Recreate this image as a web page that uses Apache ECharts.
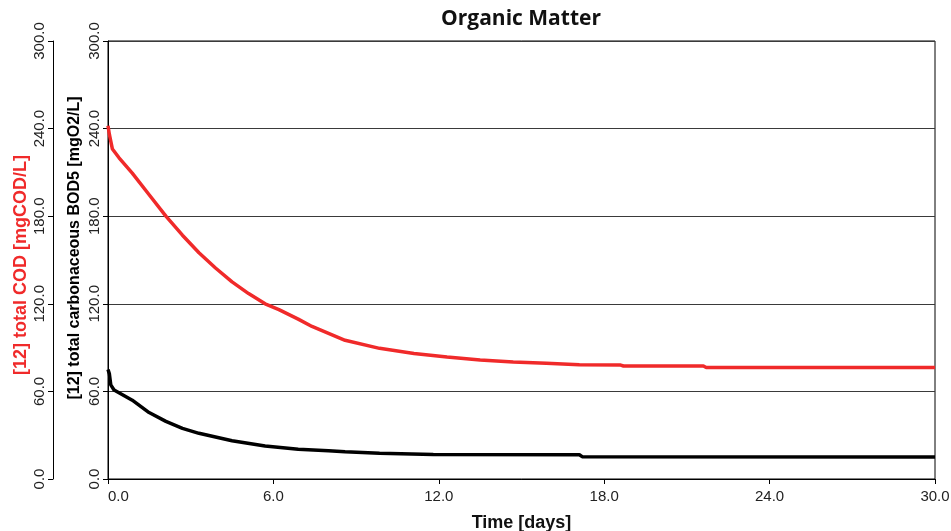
<!DOCTYPE html>
<html>
<head>
<meta charset="utf-8">
<script src="https://cdn.jsdelivr.net/npm/echarts@6/dist/echarts.min.js"></script>
<style>
html,body{margin:0;padding:0;background:#fff;}
#chart{width:951px;height:531px;}
</style>
</head>
<body>
<div id="chart"></div>
<script>
// Title and axis texts
var chartTitle = 'Organic Matter';
var xAxisName = 'Time [days]';
var codAxisName = '[12] total COD [mgCOD/L]';
var bodAxisName = '[12] total carbonaceous BOD5 [mgO2/L]';

// X axis ticks (days)
var xTicks = [0, 6, 12, 18, 24, 30];
// Y axis ticks (both axes)
var yTicks = [0, 60, 120, 180, 240, 300];

// Series: total COD (red)
var codTime = [0, 0.05, 0.16, 0.4, 0.88, 1.5, 2.1, 2.7, 3.3, 3.9, 4.5, 5.1, 5.7, 6.2, 6.9, 7.4, 8.6, 9.85, 11.1, 12.3, 13.5, 14.7, 15.9, 17.1, 18.6, 18.7, 21.6, 21.7, 30];
var codValue = [242, 236, 226, 220, 209.5, 194.5, 180, 167, 155, 144.5, 135, 127, 120, 116, 109.5, 104.5, 95, 89.5, 86, 83.5, 81.5, 80.2, 79.2, 78.2, 78, 77.4, 77.4, 76.4, 76.3];

// Series: total carbonaceous BOD5 (black)
var bodTime = [0, 0.05, 0.1, 0.22, 0.88, 1.49, 2.1, 2.7, 3.3, 4.5, 5.7, 6.9, 8.0, 8.6, 9.85, 11.8, 17.1, 17.2, 30];
var bodValue = [75, 72, 64.5, 61, 54, 45.5, 39.5, 34.7, 31.3, 26.2, 22.6, 20.3, 19.4, 18.7, 17.6, 16.7, 16.6, 15.3, 15];

function pairs(t, v) { return t.map(function (x, i) { return [x, v[i]]; }); }

var FONT = '"Liberation Sans", Arial, sans-serif';
var RED = '#f02a2a';

var chart = echarts.init(document.getElementById('chart'), null, {renderer: 'canvas'});
var fmt = function (v) { return v.toFixed(1); };

var yBase = {
  type: 'value', min: yTicks[0], max: yTicks[yTicks.length - 1], interval: yTicks[1] - yTicks[0],
  position: 'left',
  nameLocation: 'middle',
  nameMoveOverlap: false,
  axisLine: {show: true, lineStyle: {color: '#000', width: 1}},
  axisTick: {show: true, inside: false, length: 5, lineStyle: {color: '#000'}},
  axisLabel: {rotate: 90, fontFamily: FONT, fontSize: 15, color: '#222', margin: 6, formatter: fmt}
};

chart.setOption({
  animation: false,
  backgroundColor: '#fff',
  title: {
    text: chartTitle, left: 516, top: 4, textAlign: 'center',
    textStyle: {fontFamily: '"Open Sans", sans-serif', fontWeight: 'bold', fontSize: 21, color: '#111'}
  },
  grid: {left: 108, right: 16, top: 41, bottom: 52, outerBoundsMode: 'none', containLabel: false,
    show: true, borderColor: '#000', borderWidth: 1, backgroundColor: 'transparent'},
  xAxis: {
    type: 'value', min: xTicks[0], max: xTicks[xTicks.length - 1], interval: xTicks[1] - xTicks[0],
    name: xAxisName, nameLocation: 'middle', nameGap: 35,
    nameTextStyle: {fontFamily: FONT, fontWeight: 'bold', fontSize: 18, color: '#111'},
    axisLine: {show: true, lineStyle: {color: '#000', width: 1}},
    axisTick: {show: true, length: 5, lineStyle: {color: '#000'}},
    axisLabel: {fontFamily: FONT, fontSize: 15, color: '#222', margin: 10, formatter: fmt, alignMinLabel: 'left'},
    splitLine: {show: false}
  },
  yAxis: [
    Object.assign({}, yBase, {
      name: bodAxisName, nameGap: 25, offset: 0,
      nameTextStyle: {fontFamily: FONT, fontWeight: 'bold', fontSize: 16, color: '#000', padding: [0, 0, 0, 24]},
      splitLine: {show: true, lineStyle: {color: '#3a3a3a', width: 1.2}}
    }),
    Object.assign({}, yBase, {
      name: codAxisName, nameGap: 23, offset: 55,
      nameTextStyle: {fontFamily: FONT, fontWeight: 'bold', fontSize: 18, color: RED, padding: [0, 10, 0, 0]},
      splitLine: {show: false}
    })
  ],
  series: [
    {
      type: 'line', name: codAxisName, yAxisIndex: 1, data: pairs(codTime, codValue),
      showSymbol: false, smooth: false, lineStyle: {color: RED, width: 3.5}, itemStyle: {color: RED}
    },
    {
      type: 'line', name: bodAxisName, yAxisIndex: 0, data: pairs(bodTime, bodValue),
      showSymbol: false, smooth: false, lineStyle: {color: '#000', width: 3.5}, itemStyle: {color: '#000'}
    }
  ]
});
</script>
</body>
</html>
